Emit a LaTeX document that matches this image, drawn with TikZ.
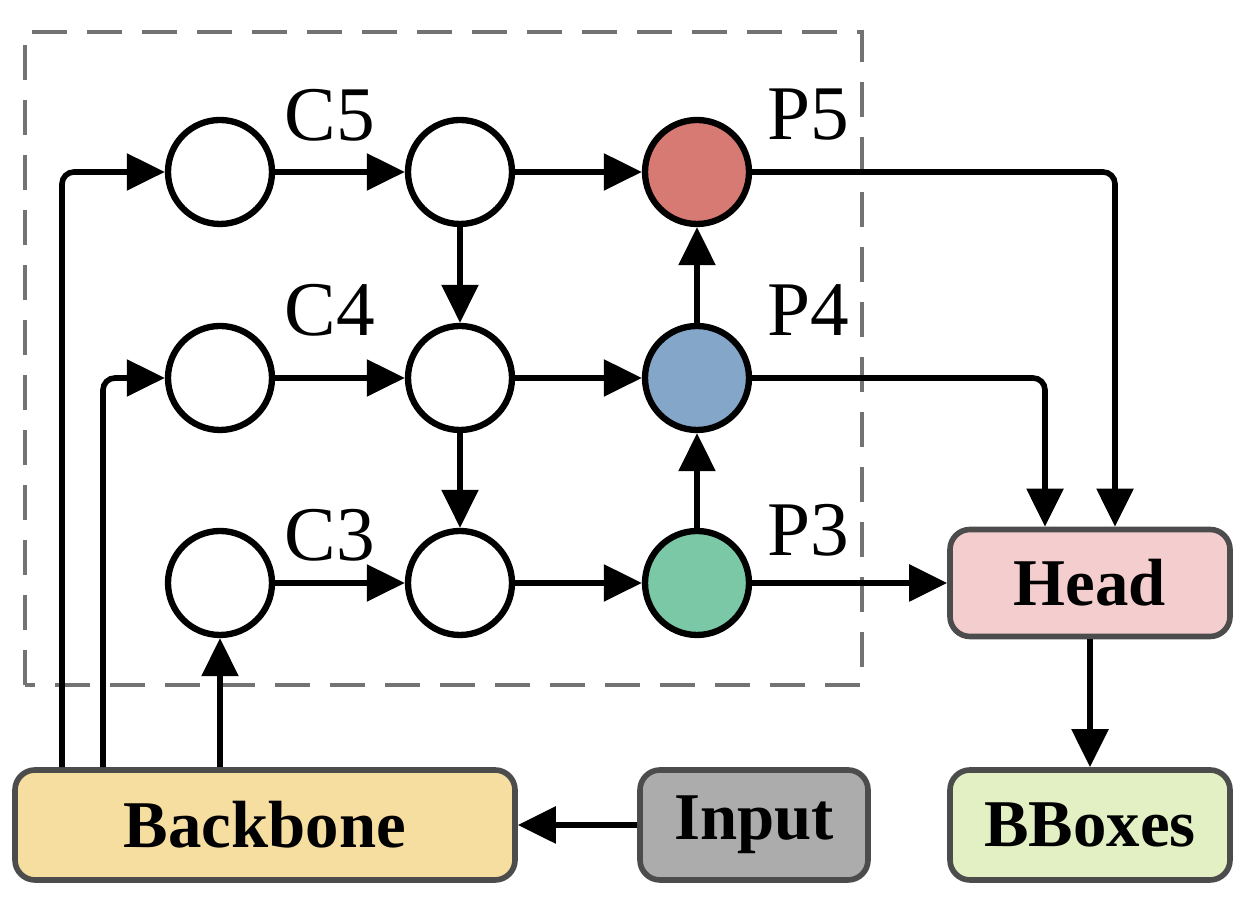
\documentclass[tikz,border=0pt]{standalone}
\usepackage{fontspec}
\setmainfont{Liberation Serif}
\usetikzlibrary{arrows.meta}
\definecolor{pred}{RGB}{214,122,115}
\definecolor{pblue}{RGB}{132,166,200}
\definecolor{pgreen}{RGB}{122,200,166}
\definecolor{headc}{RGB}{244,206,206}
\definecolor{backc}{RGB}{245,222,160}
\definecolor{inputc}{RGB}{172,172,172}
\definecolor{boxc}{RGB}{226,240,196}
\tikzset{
  circ/.style={circle, draw=black, line width=1.8pt, minimum size=1.04cm, inner sep=0pt, fill=white},
  blk/.style={rounded corners=0.2cm, draw=black!70, line width=1.6pt, font=\bfseries\fontsize{19}{20}\selectfont, inner sep=0pt},
  lbl/.style={font=\fontsize{22}{24}\selectfont},
  arr/.style={line width=1.6pt, -{Triangle[length=0.38cm,width=0.36cm]}, rounded corners=0.12cm}
}
\begin{document}
\begin{tikzpicture}
        \useasboundingbox (0,0) rectangle (12.56,9.19);
        % Rahmen
        \draw [dashed, dash pattern=on 0.35cm off 0.2cm, color=black!55, line width=1.3pt] (0.25,2.34) rectangle (8.62,8.87);

        % Kreise
        \node[circ] (c5) at (2.20,7.47) {};
        \node[circ] (c4) at (2.20,5.41) {};
        \node[circ] (c3) at (2.20,3.36) {};
        \node[circ] (m5) at (4.60,7.47) {};
        \node[circ] (m4) at (4.60,5.41) {};
        \node[circ] (m3) at (4.60,3.36) {};
        \node[circ, fill=pred] (p5) at (6.97,7.47) {};
        \node[circ, fill=pblue] (p4) at (6.97,5.41) {};
        \node[circ, fill=pgreen] (p3) at (6.97,3.36) {};

        \node[lbl] at (3.30,8.04) {C5};
        \node[lbl] at (3.30,6.09) {C4};
        \node[lbl] at (3.30,3.84) {C3};
        \node[lbl] at (8.08,8.04) {P5};
        \node[lbl] at (8.08,6.09) {P4};
        \node[lbl] at (8.08,3.89) {P3};

        % Bloecke
        \node[blk, fill=backc, minimum width=5.0cm, minimum height=1.1cm] (bb) at (2.65,0.94) {Backbone};
        \node[blk, fill=inputc, minimum width=2.28cm, minimum height=1.1cm] (in) at (7.54,0.94) {Input};
        \node[blk, fill=boxc, minimum width=2.8cm, minimum height=1.1cm] (bx) at (10.90,0.94) {BBoxes};
        \node[blk, fill=headc, minimum width=2.8cm, minimum height=1.07cm] (hd) at (10.90,3.36) {Head};

        % Pfeile
        \draw [arr] (in) -- (bb);
        \draw [arr] (bb.north west -| 0.62,0) |- (c5);
        \draw [arr] (bb.north west -| 1.03,0) |- (c4);
        \draw [arr] (bb.north west -| c3) -- (c3);
        \draw [arr] (c5) -- (m5);
        \draw [arr] (c4) -- (m4);
        \draw [arr] (c3) -- (m3);
        \draw [arr] (m5) -- (p5);
        \draw [arr] (m4) -- (p4);
        \draw [arr] (m3) -- (p3);
        \draw [arr] (m5) -- (m4);
        \draw [arr] (m4) -- (m3);
        \draw [arr] (p3) -- (p4);
        \draw [arr] (p4) -- (p5);
        \draw [arr] (p5) -| (hd.north -| 11.15,0);
        \draw [arr] (p4) -| (hd.north -| 10.45,0);
        \draw [arr] (p3) -- (hd);
        \draw [arr] (hd) -- (bx);
\end{tikzpicture}
\end{document}
